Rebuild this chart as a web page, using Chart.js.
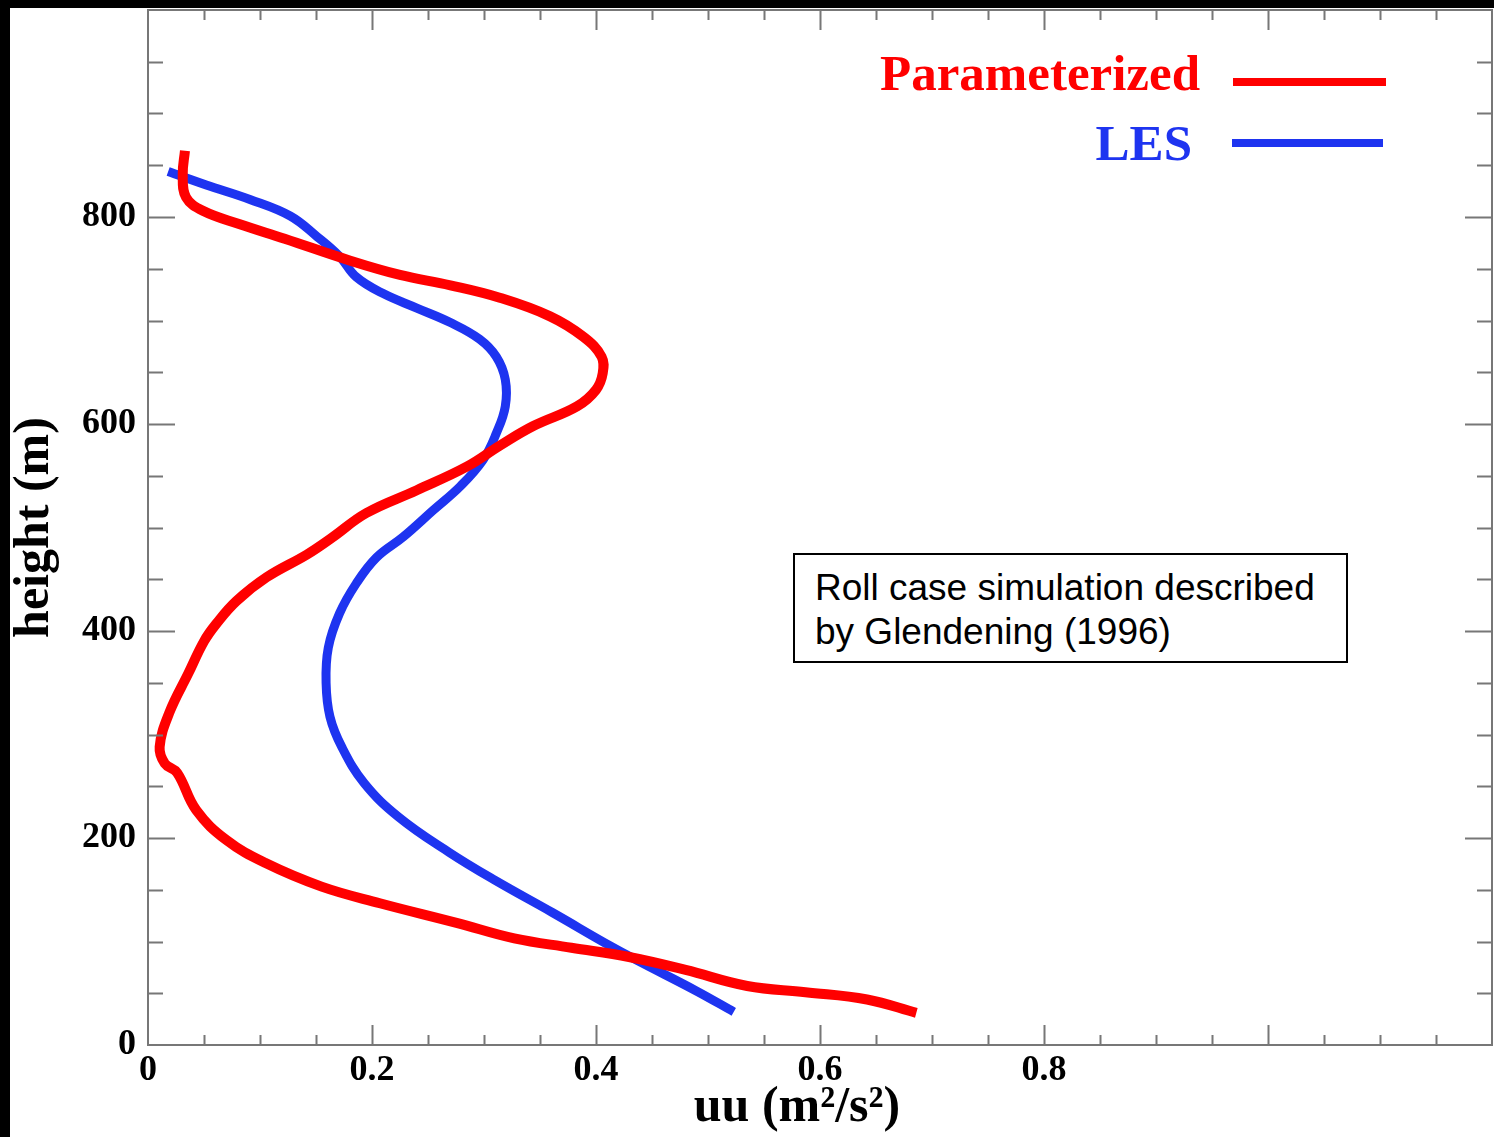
<!DOCTYPE html>
<html><head><meta charset="utf-8">
<script src="https://cdn.jsdelivr.net/npm/chart.js@4.4.0/dist/chart.umd.min.js"></script>
<style>
html,body{margin:0;padding:0;background:#000;width:1494px;height:1137px;overflow:hidden;}
#wrap{position:absolute;left:10px;top:8px;width:1484px;height:1129px;background:#fff;}
#chart{position:absolute;left:0;top:0;}
#note{position:absolute;left:783px;top:545px;width:555px;height:110px;box-sizing:border-box;border:2px solid #000;background:#fff;
 font-family:'Liberation Sans',Arial,sans-serif;font-size:37px;line-height:44px;padding:11px 0 0 20px;color:#000;white-space:nowrap;}
</style>
</head><body>
<div id="wrap"><canvas id="chart" width="1484" height="1129"></canvas>
<div id="note">Roll case simulation described<br>by Glendening (1996)</div></div>
<script>
// ---- data (uu in m^2/s^2, height in m) ----
const seriesNames = ['Parameterized', 'LES'];
const xAxisTitle = 'uu (m²/s²)';
const yAxisTitle = 'height (m)';
const paramUU = [0.033,0.031,0.034,0.049,0.082,0.122,0.180,0.225,0.270,0.314,0.359,0.389,0.405,0.406,0.400,0.383,0.344,0.314,0.285,0.240,0.195,0.164,0.142,0.106,0.079,0.061,0.050,0.036,0.019,0.0104,0.015,0.026,0.043,0.070,0.1045,0.155,0.207,0.2755,0.327,0.378,0.4295,0.480,0.535,0.587,0.642,0.686];
const paramH  = [864,841,819,806,793,779,758,744,734,722,704,684,665,649,633,617,598,579,559,536,514,490,474,452,429,407,390,359,321,288,272,263,227,198,176,153,137,118,103,94,85,72.5,57,51,44,31];
const lesUU = [0.018,0.052,0.091,0.127,0.151,0.171,0.186,0.210,0.240,0.270,0.296,0.311,0.319,0.319,0.311,0.299,0.279,0.255,0.228,0.204,0.186,0.171,0.161,0.159,0.1625,0.173,0.193,0.224,0.269,0.310,0.361,0.414,0.440,0.490,0.523];
const lesH  = [844,831,817,801,781,762,742,726,712,698,682,665,643,617,591,565,540,517,491,471,446,417,384,350,317,288,253,220,186,159,128,95,80,52,32];
const xTickLabels = ['0','0.2','0.4','0.6','0.8','',''];
const yTickLabels = ['0','200','400','600','800',''];

const toPts = (xs, ys) => xs.map((v, i) => ({x: v, y: ys[i]}));
const RED = '#ff0000', BLUE = '#1e34f0', FRAME = '#777777';
const SERIF = '"Liberation Serif", "Times New Roman", serif';

const framePlugin = {
  id: 'frameTicks',
  afterDatasetsDraw(chart) {
    const {ctx, chartArea: a, scales: {x, y}} = chart;
    ctx.save();
    ctx.strokeStyle = FRAME; ctx.lineWidth = 2;
    ctx.strokeRect(a.left, a.top, a.right - a.left, a.bottom - a.top);
    ctx.beginPath();
    for (let i = 1; i < 24; i++) {
      const px = Math.round(x.getPixelForValue(i * 0.05)) + 0.5;
      const L = (i % 4 === 0) ? 20 : 10;
      ctx.moveTo(px, a.bottom); ctx.lineTo(px, a.bottom - L);
      ctx.moveTo(px, a.top); ctx.lineTo(px, a.top + L);
    }
    for (let i = 1; i < 20; i++) {
      const py = Math.round(y.getPixelForValue(i * 50)) + 0.5;
      const L = (i % 4 === 0) ? 27 : 15;
      ctx.moveTo(a.left, py); ctx.lineTo(a.left + L, py);
      ctx.moveTo(a.right, py); ctx.lineTo(a.right - L, py);
    }
    ctx.stroke();
    ctx.restore();
  },
  afterDraw(chart) {
    const {ctx} = chart;
    const ds = chart.data.datasets;
    const rows = [
      {tx: 1190, ty: 82, lx0: 1223, lx1: 1376, ly: 74},
      {tx: 1182, ty: 152, lx0: 1222, lx1: 1373, ly: 135}
    ];
    ctx.save();
    ctx.font = 'bold 51px ' + SERIF;
    ctx.textAlign = 'right'; ctx.textBaseline = 'alphabetic';
    ds.forEach((d, i) => {
      const r = rows[i];
      ctx.fillStyle = d.borderColor;
      ctx.fillText(d.label, r.tx, r.ty);
      ctx.strokeStyle = d.borderColor; ctx.lineWidth = 8; ctx.lineCap = 'butt';
      ctx.beginPath(); ctx.moveTo(r.lx0, r.ly); ctx.lineTo(r.lx1, r.ly); ctx.stroke();
    });
    // x axis title
    ctx.fillStyle = '#000';
    ctx.font = 'bold 50px ' + SERIF;
    ctx.textAlign = 'center'; ctx.textBaseline = 'middle';
    ctx.fillText(xAxisTitle, 787, 1100);
    ctx.restore();
  }
};

const tickFont = {family: SERIF, size: 36, weight: 'bold'};
const titleFont = {family: SERIF, size: 50, weight: 'bold', lineHeight: 1};

new Chart(document.getElementById('chart'), {
  type: 'scatter',
  data: {
    datasets: [
      {label: seriesNames[0], data: toPts(paramUU, paramH), showLine: true, borderColor: RED, backgroundColor: RED,
       borderWidth: 10, pointRadius: 0, tension: 0.4, borderCapStyle: 'butt', borderJoinStyle: 'round'},
      {label: seriesNames[1], data: toPts(lesUU, lesH), showLine: true, borderColor: BLUE, backgroundColor: BLUE,
       borderWidth: 9, pointRadius: 0, tension: 0.4, borderCapStyle: 'butt', borderJoinStyle: 'round'}
    ]
  },
  options: {
    responsive: false, animation: false, devicePixelRatio: 1,
    layout: {padding: {left: 0, top: 2, right: 2, bottom: 0}},
    plugins: {legend: {display: false}, tooltip: {enabled: false}},
    scales: {
      x: {
        type: 'linear', min: 0, max: 1.2,
        grid: {display: false, drawTicks: false},
        border: {display: false},
        ticks: {stepSize: 0.2, autoSkip: false, maxRotation: 0, padding: 4, color: '#000', font: tickFont,
                callback: (v, i) => xTickLabels[i] ?? ''},
        title: {display: false, text: xAxisTitle},
        afterFit: s => { s.height = 92; s.paddingLeft = 0; s.paddingRight = 0; s.paddingTop = 0; s.paddingBottom = 0; }
      },
      y: {
        type: 'linear', min: 0, max: 1000,
        grid: {display: false, drawTicks: false},
        border: {display: false},
        ticks: {stepSize: 200, autoSkip: false, padding: 12, color: '#000', font: tickFont,
                callback: (v, i) => yTickLabels[i] ?? ''},
        title: {display: true, text: yAxisTitle, color: '#000', font: titleFont, padding: {top: 0, bottom: 0}},
        afterFit: s => { s.width = 138; s.paddingLeft = 0; s.paddingRight = 0; s.paddingTop = 0; s.paddingBottom = 0; }
      }
    }
  },
  plugins: [framePlugin]
});
</script>
</body></html>
